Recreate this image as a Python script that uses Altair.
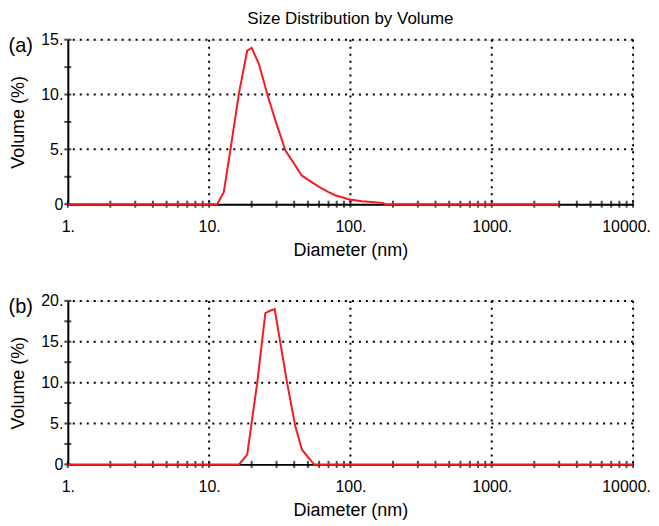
import altair as alt
import pandas as pd

# ---- data ----
diam_a = [1, 11.4, 12.7, 14.2, 16.3, 18.6, 20.0, 22.5, 25.7, 29.5, 34.7, 45.4, 59.5, 70, 78, 97, 120, 170, 176, 3000]
vol_a = [0, 0, 1.1, 5.1, 10.2, 14.0, 14.25, 12.8, 10.1, 7.6, 4.9, 2.6, 1.6, 1.1, 0.82, 0.45, 0.27, 0.12, 0, 0]

diam_b = [1, 16.3, 18.6, 21.9, 25.0, 27.0, 29.1, 35.6, 40.7, 45.4, 53.4, 55.5, 10000]
vol_b = [0, 0, 1.2, 10.0, 18.5, 18.8, 19.0, 10.0, 4.7, 1.8, 0.3, 0, 0]

x_major = [1, 10, 100, 1000, 10000]
x_minor = [1, 2, 3, 4, 5, 6, 7, 8, 9,
           10, 20, 30, 40, 50, 60, 70, 80, 90,
           100, 200, 300, 400, 500, 600, 700, 800, 900,
           1000, 2000, 3000, 4000, 5000, 6000, 7000, 8000, 9000, 10000]
x_grid = [10, 100, 1000, 10000]

y_major_a = [0, 5, 10, 15]
y_minor_a = [0, 2.5, 5, 7.5, 10, 12.5, 15]
y_grid_a = [5, 10, 15]

y_major_b = [0, 5, 10, 15, 20]
y_minor_b = [0, 2.5, 5, 7.5, 10, 12.5, 15, 17.5, 20]
y_grid_b = [5, 10, 15, 20]

FONT = "Liberation Sans"
W = 567


def panel(diam, vol, ymax, y_major, y_minor, y_grid, label, h, title=None):
    xs = alt.Scale(type="log", domain=[1, 10000], nice=False)
    ys = alt.Scale(domain=[0, ymax], nice=False, zero=True)

    xaxis = alt.Axis(values=x_major, ticks=False, grid=False,
                     labelExpr="datum.value + '.'", labelFont=FONT, labelFontSize=16,
                     labelColor="black", labelPadding=14, labelFlush=False,
                     labelOffset={"condition": {"test": "datum.value == 10000", "value": -7},
                                  "value": 0},
                     domainColor="black", domainWidth=2,
                     title="Diameter (nm)", titleFont=FONT, titleFontSize=18,
                     titleFontWeight="normal", titleColor="black", titlePadding=7)
    yaxis = alt.Axis(values=y_major, ticks=False, grid=False,
                     labelExpr="datum.value == 0 ? '0' : datum.value + '.'",
                     labelFont=FONT, labelFontSize=16, labelColor="black", labelPadding=5,
                     labelFlush=False,
                     domainColor="black", domainWidth=2,
                     title="Volume (%)", titleFont=FONT, titleFontSize=18,
                     titleFontWeight="normal", titleColor="black", titlePadding=13)

    df = pd.DataFrame({"d": diam, "v": vol})
    base_line = alt.Chart(df).mark_line(color="#f21c24", strokeWidth=2).encode(
        x=alt.X("d:Q", scale=xs, axis=xaxis),
        y=alt.Y("v:Q", scale=ys, axis=yaxis),
    )

    vgrid = alt.Chart(pd.DataFrame({"g": x_grid})).mark_rule(
        color="black", strokeWidth=2, strokeDash=[2, 5]
    ).encode(x=alt.X("g:Q", scale=xs))
    hgrid = alt.Chart(pd.DataFrame({"g": y_grid})).mark_rule(
        color="black", strokeWidth=2, strokeDash=[2, 5]
    ).encode(y=alt.Y("g:Q", scale=ys))

    xticks = alt.Chart(pd.DataFrame({"t": x_minor, "z": [0] * len(x_minor)})).mark_tick(
        orient="vertical", color="black", size=7, thickness=2
    ).encode(x=alt.X("t:Q", scale=xs), y=alt.Y("z:Q", scale=ys))
    yticks = alt.Chart(pd.DataFrame({"t": y_minor, "o": [1] * len(y_minor)})).mark_tick(
        orient="horizontal", color="black", size=7, thickness=2
    ).encode(y=alt.Y("t:Q", scale=ys), x=alt.X("o:Q", scale=xs))

    lab = alt.Chart(pd.DataFrame({"l": [label]})).mark_text(
        font=FONT, fontSize=20, color="black", align="right", baseline="middle"
    ).encode(text="l:N", x=alt.value(-35), y=alt.value(6))

    props = dict(width=W, height=h)
    if title is not None:
        props["title"] = alt.TitleParams(title, font=FONT, fontSize=17, fontWeight="normal",
                                         color="black", anchor="middle", frame="group",
                                         offset=4)
    return alt.layer(vgrid, hgrid, xticks, yticks, base_line, lab).properties(**props)


top = panel(diam_a, vol_a, 15, y_major_a, y_minor_a, y_grid_a, "(a)", 165,
            title="Size Distribution by Volume")
bottom = panel(diam_b, vol_b, 20, y_major_b, y_minor_b, y_grid_b, "(b)", 164)

chart = alt.vconcat(top, bottom, spacing=32).properties(
    padding={"left": 0, "top": 0, "right": 0, "bottom": 0}
).configure_view(stroke=None).configure(background="white")

chart.save("out.html", embed_options={"renderer": "svg", "actions": False})
